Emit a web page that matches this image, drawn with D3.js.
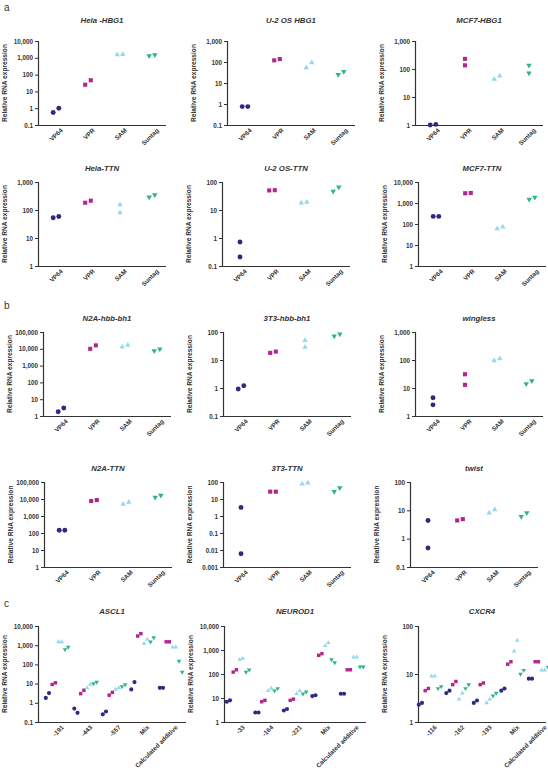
<!DOCTYPE html>
<html>
<head>
<meta charset="utf-8">
<script src="https://cdn.jsdelivr.net/npm/d3@7"></script>
<style>
  body { margin: 0; background: #fff; }
  text { font-family: "Liberation Sans", Arial, sans-serif; fill: #333; }
</style>
</head>
<body>
<svg id="fig" width="548" height="775"></svg>
<script>
// activators, colours follow the figure legend order
const groups = ["VP64", "VPR", "SAM", "Suntag"]
const colors = ["#2d2a84", "#b2278d", "#93d8ec", "#2fb38b"]
const markerSize = [19, 17, 13, 13]

// panel a / b : two replicates per activator
const helaHBG1 = [[0.55, 1.0], [25, 46], [1550, 1600], [1300, 1500]]
const u2osHBG1 = [[0.75, 0.75], [120, 138], [54, 93], [25, 35]]
const mcf7HBG1 = [[1.0, 1.05], [230, 135], [43, 57], [135, 72]]
const helaTTN = [[53, 59], [182, 215], [155, 80], [290, 350]]
const u2osTTN = [[0.72, 0.21], [50, 51], [18, 19], [46, 66]]
const mcf7TTN = [[230, 230], [2900, 3000], [60, 72], [1500, 1850]]
const n2aHbb = [[1.8, 3], [10000, 16000], [13000, 16500], [7600, 9500]]
const t3Hbb = [[0.92, 1.2], [18, 20], [50, 29], [72, 85]]
const wingless = [[4.5, 2.5], [31, 13], [95, 112], [14, 18]]
const n2aTTN = [[145, 145], [7600, 8700], [4900, 6600], [12600, 16500]]
const t3TTN = [[3.2, 0.006], [27, 27], [76, 87], [27, 46]]
const twist = [[4.4, 0.47], [4.4, 4.9], [8.1, 10.5], [6, 8.1]]

// panel c : gRNAs, mix and calculated additive
const asclCats = ["-191", "-443", "-557", "Mix", "Calculated additive"]
const asclVP64 = [[1.8, 3.2], [0.5, 0.3], [0.25, 0.35], [5, 12], [6, 6]]
const asclVPR = [[9, 11], [3, 4.5], [2.5, 3.5], [3000, 4000], [1500, 1500]]
const asclSAM = [[1500, 1500], [6, 9], [5, 6], [1200, 2000], [800, 800]]
const asclSuntag = [[600, 800], [10, 12], [7, 9], [1500, 2500], [150, 40]]

const neuroCats = ["-33", "-164", "-221", "Mix", "Calculated additive"]
const neuroVP64 = [[7, 8], [2.5, 2.5], [3, 3.5], [12, 13], [15, 15]]
const neuroVPR = [[120, 150], [7, 8], [8, 9], [600, 700], [150, 150]]
const neuroSAM = [[400, 450], [20, 25], [15, 20], [1500, 2000], [500, 500]]
const neuroSuntag = [[120, 150], [20, 25], [15, 18], [400, 300], [200, 200]]

const cxcrCats = ["-116", "-162", "-193", "Mix", "Calculated additive"]
const cxcrVP64 = [[2.3, 2.5], [4, 4.5], [2.5, 2.8], [4.5, 5], [8, 8]]
const cxcrVPR = [[4.5, 5], [6, 7], [6, 6.5], [16, 18], [18, 18]]
const cxcrSAM = [[9, 9], [3, 4], [2.5, 3], [30, 50], [12, 12]]
const cxcrSuntag = [[5, 5.5], [5, 6], [3.5, 4], [10, 12], [14, 14]]

const svg = d3.select('#fig')

function tickText(v) {
  return v >= 1 ? d3.format(',')(v) : String(+v.toPrecision(1))
}

function marker(i, scale) {
  var t = [d3.symbolCircle, d3.symbolSquare, d3.symbolTriangle, d3.symbolTriangle][i]
  return d3.symbol().type(t).size(markerSize[i] * scale)()
}

function drawAxes(g, p, x, y) {
  var decades = d3.range(Math.round(Math.log10(p.ymin)), Math.round(Math.log10(p.ymax)) + 1)
  var yAxis = d3.axisLeft(y)
      .tickValues(decades.map(e => Math.pow(10, e)))
      .tickFormat(tickText)
      .tickSize(3)
      .tickPadding(2)
  var ga = g.append('g').attr('class', 'y axis').call(yAxis)
  ga.selectAll('text').style('font-size', '6.3px').style('font-weight', 'bold')

  var xAxis = d3.axisBottom(x).tickSize(0).tickPadding(4)
  var gx = g.append('g').attr('transform', `translate(0, ${ p.h })`).call(xAxis)
  gx.select('.domain').attr('d', `M0,0.5H${ p.w }`)
  gx.selectAll('text')
      .style('font-size', '6.3px')
      .style('font-weight', 'bold')
      .attr('text-anchor', 'end')
      .attr('dy', '0.2em')
      .attr('transform', 'translate(3, 2) rotate(-45)')

  g.selectAll('.domain').attr('stroke', '#333').attr('stroke-width', 1.2)
  g.selectAll('.tick line').attr('stroke', '#333').attr('stroke-width', 1)
  g.selectAll('.tick text').style('fill', '#333')

  g.append('text')
      .attr('transform', `translate(${ -31 }, ${ p.h / 2 }) rotate(-90)`)
      .attr('text-anchor', 'middle')
      .style('font-size', '6.6px')
      .style('font-weight', 'bold')
      .text('Relative RNA expression')

  g.append('text')
      .attr('x', p.w / 2)
      .attr('y', p.ty - p.top)
      .attr('text-anchor', 'middle')
      .style('font-size', '7.8px')
      .style('font-weight', 'bold')
      .style('font-style', 'italic')
      .text(p.title)
}

function drawPanel(p) {
  p.w = 128
  p.h = p.bottom - p.top
  var g = svg.append('g').attr('transform', `translate(${ p.x0 }, ${ p.top })`)
  var x = d3.scalePoint().domain(groups).range([18, 114])
  var y = d3.scaleLog().domain([p.ymin, p.ymax]).range([p.h, 0])
  drawAxes(g, p, x, y)

  var pts = []
  p.data.forEach(function(reps, i) {
    var close = Math.abs(y(reps[0]) - y(reps[1])) < 6
    reps.forEach(function(v, r) {
      pts.push({ i: i, v: v, dx: close ? (r ? 2.8 : -2.8) : 0, cx: x(groups[i]) })
    })
  })
  g.selectAll('path.pt')
      .data(pts)
      .enter().append('path')
      .attr('class', 'pt')
      .attr('d', d => marker(d.i, 1))
      .attr('fill', d => colors[d.i])
      .attr('transform', d => `translate(${ d.cx + d.dx }, ${ y(d.v) }) rotate(${ d.i == 3 ? 180 : 0 })`)
}

function drawGuidePanel(p) {
  p.w = p.wid
  p.h = p.bottom - p.top
  var g = svg.append('g').attr('transform', `translate(${ p.x0 }, ${ p.top })`)
  var x = d3.scalePoint().domain(p.cats).range([p.first, p.first + 4 * p.step])
  var y = d3.scaleLog().domain([p.ymin, p.ymax]).range([p.h, 0])
  drawAxes(g, p, x, y)

  var pts = []
  p.series.forEach(function(ser, i) {
    ser.forEach(function(reps, c) {
      reps.forEach(function(v, r) {
        pts.push({ i: i, v: v, cx: x(p.cats[c]) + (i - 1.5) * 6.4 + (r ? 1.6 : -1.6) })
      })
    })
  })
  g.selectAll('path.pt')
      .data(pts)
      .enter().append('path')
      .attr('class', 'pt')
      .attr('d', d => marker(d.i, 0.7))
      .attr('fill', d => colors[d.i])
      .attr('transform', d => `translate(${ d.cx }, ${ y(d.v) }) rotate(${ d.i == 3 ? 180 : 0 })`)
}

// row layout
var rowA1 = { top: 41, bottom: 125, ty: 23 },
    rowA2 = { top: 182, bottom: 266, ty: 171 },
    rowB1 = { top: 332, bottom: 416, ty: 321 },
    rowB2 = { top: 482, bottom: 567, ty: 471 },
    rowC = { top: 626, bottom: 722, ty: 614 }

var panels = [
  Object.assign({ title: 'Hela -HBG1', data: helaHBG1, ymin: 0.1, ymax: 10000, x0: 38 }, rowA1),
  Object.assign({ title: 'U-2 OS HBG1', data: u2osHBG1, ymin: 0.1, ymax: 1000, x0: 227 }, rowA1),
  Object.assign({ title: 'MCF7-HBG1', data: mcf7HBG1, ymin: 1, ymax: 1000, x0: 415 }, rowA1),
  Object.assign({ title: 'Hela-TTN', data: helaTTN, ymin: 1, ymax: 1000, x0: 38 }, rowA2),
  Object.assign({ title: 'U-2 OS-TTN', data: u2osTTN, ymin: 0.1, ymax: 100, x0: 222 }, rowA2),
  Object.assign({ title: 'MCF7-TTN', data: mcf7TTN, ymin: 1, ymax: 10000, x0: 418 }, rowA2),
  Object.assign({ title: 'N2A-hbb-bh1', data: n2aHbb, ymin: 1, ymax: 100000, x0: 43 }, rowB1),
  Object.assign({ title: '3T3-hbb-bh1', data: t3Hbb, ymin: 0.1, ymax: 100, x0: 223 }, rowB1),
  Object.assign({ title: 'wingless', data: wingless, ymin: 1, ymax: 1000, x0: 415 }, rowB1),
  Object.assign({ title: 'N2A-TTN', data: n2aTTN, ymin: 1, ymax: 100000, x0: 44 }, rowB2),
  Object.assign({ title: '3T3-TTN', data: t3TTN, ymin: 0.001, ymax: 100, x0: 223 }, rowB2),
  Object.assign({ title: 'twist', data: twist, ymin: 0.1, ymax: 100, x0: 410 }, rowB2)
]
panels.forEach(drawPanel)

var guidePanels = [
  Object.assign({ title: 'ASCL1', cats: asclCats, series: [asclVP64, asclVPR, asclSAM, asclSuntag],
    ymin: 0.1, ymax: 10000, x0: 38, wid: 148, first: 19, step: 28.5 }, rowC),
  Object.assign({ title: 'NEUROD1', cats: neuroCats, series: [neuroVP64, neuroVPR, neuroSAM, neuroSuntag],
    ymin: 1, ymax: 10000, x0: 224, wid: 142, first: 14, step: 28.5 }, rowC),
  Object.assign({ title: 'CXCR4', cats: cxcrCats, series: [cxcrVP64, cxcrVPR, cxcrSAM, cxcrSuntag],
    ymin: 1, ymax: 100, x0: 418, wid: 128, first: 12, step: 27.5 }, rowC)
]
guidePanels.forEach(drawGuidePanel)

// panel letters
svg.selectAll('text.letter')
    .data([['a', 4, 11], ['b', 4, 309], ['c', 4, 607]])
    .enter().append('text')
    .attr('class', 'letter')
    .attr('x', d => d[1])
    .attr('y', d => d[2])
    .style('font-size', '10px')
    .text(d => d[0])
</script>
</body>
</html>
